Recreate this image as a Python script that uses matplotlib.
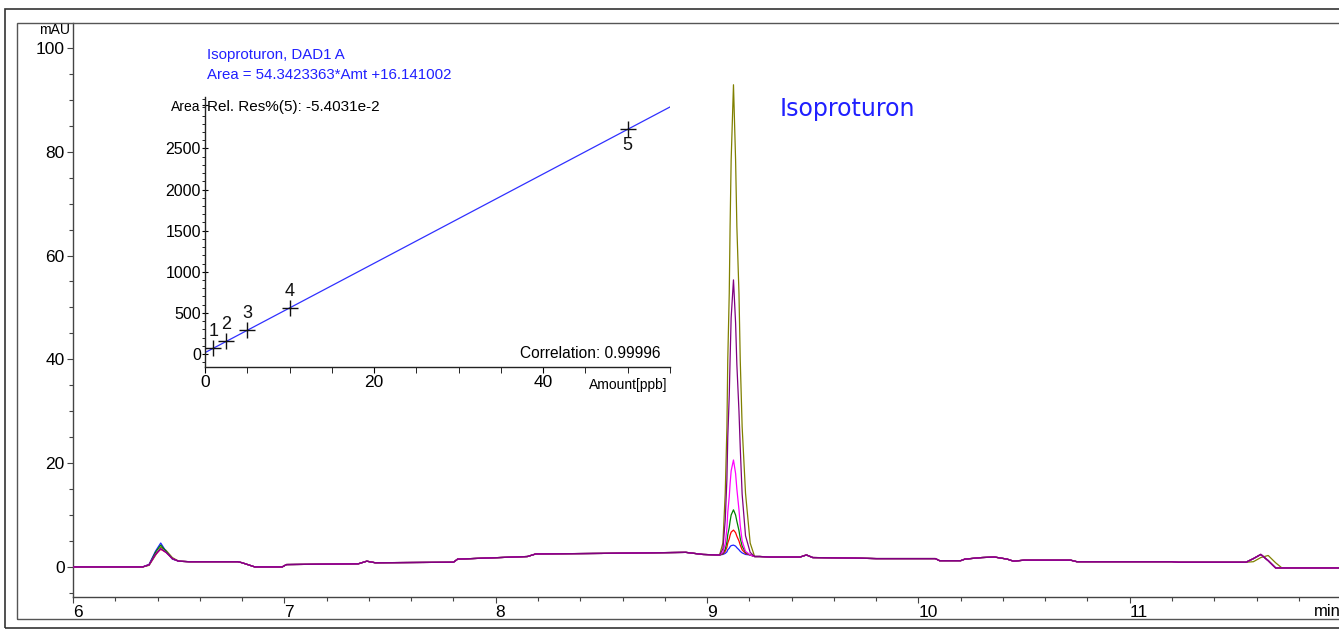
import numpy as np
import matplotlib
matplotlib.use("Agg")
import matplotlib.pyplot as plt
from matplotlib.patches import Rectangle
from matplotlib.ticker import MultipleLocator

plt.rcParams['font.family'] = ['Liberation Sans', 'DejaVu Sans']

# ---------------- chromatogram data (time in min, signal in mAU) ----------------
trace_names = ['olive', 'blue', 'red', 'green', 'magenta', 'purple']
trace_colors = ['#808000', '#2020ff', '#ff0000', '#008000', '#ff00ff', '#800080']

base_pre_t = [6.00, 6.33]
base_pre_v = [0.0, 0.0]

early_t = [6.36, 6.39, 6.415, 6.44, 6.47, 6.50]
early_v = [
    [0.3, 2.2, 3.8, 3.2, 1.8, 1.1],   # olive
    [0.5, 3.0, 4.6, 3.0, 1.5, 1.1],   # blue
    [0.4, 2.4, 3.4, 2.8, 1.6, 1.1],   # red
    [0.4, 2.8, 4.2, 3.0, 1.6, 1.1],   # green
    [0.4, 2.4, 3.5, 2.8, 1.6, 1.1],   # magenta
    [0.4, 2.4, 3.5, 2.8, 1.6, 1.1],   # purple
]

mid_t = [6.55, 6.78, 6.80, 6.86, 6.99, 7.01, 7.35, 7.39, 7.43, 7.80, 7.82,
         8.15, 8.19, 8.50, 8.90, 8.98, 9.05]
mid_v = [1.0, 1.0, 0.8, 0.0, 0.0, 0.45, 0.6, 1.1, 0.8, 0.9, 1.5,
         2.0, 2.5, 2.6, 2.8, 2.4, 2.3]

peak_t = [9.060, 9.075, 9.086, 9.094, 9.098, 9.105, 9.109, 9.114, 9.125,
          9.135, 9.141, 9.151, 9.157, 9.166, 9.182, 9.204, 9.225]
peak_v = [
    [2.4, 4.6, 14.2, 27.0, 39.9, 52.7, 65.6, 78.4, 92.9, 78.4, 65.6, 52.7, 39.9, 27.0, 14.2, 4.6, 2.0],  # olive
    [2.3, 2.4, 2.6, 2.9, 3.3, 3.6, 3.9, 4.1, 4.2, 4.0, 3.7, 3.3, 3.0, 2.7, 2.4, 2.3, 2.0],           # blue
    [2.3, 2.5, 3.0, 3.8, 4.6, 5.4, 6.1, 6.7, 7.1, 6.6, 5.9, 5.0, 4.2, 3.3, 2.6, 2.3, 2.0],           # red
    [2.3, 2.6, 3.4, 4.8, 6.2, 7.6, 8.8, 10.0, 11.0, 10.0, 8.8, 7.0, 5.5, 4.0, 2.8, 2.3, 2.0],        # green
    [2.3, 2.8, 4.5, 7.5, 10.5, 13.5, 16.0, 18.5, 20.6, 18.0, 15.0, 11.0, 8.0, 5.0, 3.0, 2.3, 2.0],   # magenta
    [2.3, 3.5, 9.0, 17.0, 25.0, 33.0, 40.0, 48.0, 55.3, 47.0, 39.0, 30.0, 23.0, 14.0, 6.0, 2.8, 2.0],  # purple
]

post_t = [9.25, 9.30, 9.44, 9.47, 9.50, 9.70, 9.80, 10.08, 10.10, 10.20, 10.22,
          10.30, 10.36, 10.42, 10.45, 10.50, 10.72, 10.75, 11.20, 11.23, 11.55]
post_v = [2.0, 1.9, 1.9, 2.3, 1.8, 1.7, 1.6, 1.6, 1.2, 1.2, 1.5,
          1.8, 1.9, 1.5, 1.1, 1.3, 1.3, 1.0, 1.0, 0.9, 0.9]

late_t = [11.585, 11.62, 11.655, 11.69, 11.72, 11.99]
late_v = [
    [1.0, 1.8, 2.2, 0.8, -0.2, -0.2],   # olive
    [1.6, 2.4, 1.2, -0.2, -0.2, -0.2],  # blue
    [1.6, 2.4, 1.2, -0.2, -0.2, -0.2],  # red
    [1.6, 2.4, 1.2, -0.2, -0.2, -0.2],  # green
    [1.6, 2.4, 1.2, -0.2, -0.2, -0.2],  # magenta
    [1.6, 2.4, 1.2, -0.2, -0.2, -0.2],  # purple
]

y_major = [0, 20, 40, 60, 80, 100]
y_labels = ['0', '20', '40', '60', '80', '100']
x_major = [6, 7, 8, 9, 10, 11]
x_labels = ['6', '7', '8', '9', '10', '11']

# ---------------- calibration data ----------------
cal_amount = [1, 2.5, 5, 10, 50]
cal_area = [72, 152, 290, 560, 2733]
cal_labels = ['1', '2', '3', '4', '5']
cal_slope = 54.3423363
cal_intercept = 16.141002
cal_yticks = [0, 500, 1000, 1500, 2000, 2500, 3027]
cal_ylabels = ['0', '500', '1000', '1500', '2000', '2500', 'Area']
cal_xticks = [0, 20, 40]
cal_xlabels = ['0', '20', '40']

W, H = 1339, 630
fig = plt.figure(figsize=(W / 100, H / 100), dpi=100)

def fx(px):
    return px / W

def fy(py):
    return 1 - py / H

# frames
fig.patches.append(Rectangle((fx(5), fy(628)), fx(1345 - 5), (628 - 9) / H, fill=False,
                             ec='#333333', lw=1.2, transform=fig.transFigure))
fig.patches.append(Rectangle((fx(17), fy(619)), fx(1345 - 17), (619 - 23) / H, fill=False,
                             ec='#555555', lw=1.0, transform=fig.transFigure))

# ---------------- main chromatogram ----------------
ax = fig.add_axes([fx(73), fy(597), fx(1339 - 73), (597 - 23) / H])
ax.set_facecolor('none')
ax.set_xlim(6, 11.99)
ax.set_ylim(-5.8, 104.8)
for s in ['top', 'right']:
    ax.spines[s].set_visible(False)
for s in ['left', 'bottom']:
    ax.spines[s].set_color('#444444')
    ax.spines[s].set_linewidth(1.0)

for i in range(len(trace_names)):
    t = base_pre_t + early_t + mid_t + peak_t + post_t + late_t
    v = base_pre_v + early_v[i] + mid_v + peak_v[i] + post_v + late_v[i]
    ax.plot(t, v, color=trace_colors[i], lw=0.9, zorder=2 + i)

ax.set_yticks(y_major)
ax.set_yticklabels(y_labels)
ax.yaxis.set_minor_locator(MultipleLocator(5))
ax.set_xticks(x_major)
ax.set_xticklabels(x_labels)
ax.xaxis.set_minor_locator(MultipleLocator(0.2))
ax.tick_params(axis='both', which='major', length=4, width=0.8, color='#444444',
               labelsize=12.5, pad=2)
ax.tick_params(axis='both', which='minor', length=3, width=0.8, color='#444444')
for lab in ax.get_xticklabels():
    lab.set_horizontalalignment('left')

fig.text(fx(70), fy(30), 'mAU', ha='right', va='center', fontsize=10)
fig.text(fx(1314), fy(611), 'min', ha='left', va='center', fontsize=12)

fig.text(fx(780), fy(109), 'Isoproturon', ha='left', va='center', fontsize=17,
         color='#2020ff', family=['DejaVu Sans'])
fig.text(fx(207), fy(55), 'Isoproturon, DAD1 A', ha='left', va='center', fontsize=10.8,
         color='#2020ff')
fig.text(fx(207), fy(75), 'Area = 54.3423363*Amt +16.141002', ha='left', va='center',
         fontsize=10.8, color='#2020ff')

# ---------------- calibration inset ----------------
ax2 = fig.add_axes([fx(205), fy(366.7), fx(670 - 205), (366.7 - 96.7) / H])
ax2.set_facecolor('none')
ax2.set_xlim(0, 55.0)
ax2.set_ylim(-155, 3130)
for s in ['top', 'right']:
    ax2.spines[s].set_visible(False)
for s in ['left', 'bottom']:
    ax2.spines[s].set_color('#222222')
    ax2.spines[s].set_linewidth(1.0)
ax2.axline((0, cal_intercept), slope=cal_slope, color='#3030ff', lw=0.9)
ax2.plot(cal_amount, cal_area, '+', color='#111111', ms=11, mew=1.0, zorder=5)
for a, r, lab in zip(cal_amount, cal_area, cal_labels):
    off = -12 if lab == '5' else 12
    ax2.annotate(lab, (a, r), xytext=(0, off), textcoords='offset points',
                 ha='center', va='center', fontsize=13, color='#111111')

ax2.set_yticks(cal_yticks)
ax2.set_yticklabels(cal_ylabels)
ax2.yaxis.set_minor_locator(MultipleLocator(100))
ax2.set_xticks(cal_xticks)
ax2.set_xticklabels(cal_xlabels)
ax2.xaxis.set_minor_locator(MultipleLocator(5))
ax2.tick_params(axis='y', which='major', length=4, width=0.8, direction='inout', labelsize=11.5, pad=1)
ax2.tick_params(axis='y', which='minor', length=2, width=0.6, direction='out')
ax2.tick_params(axis='x', which='major', length=4, width=0.8, direction='out', labelsize=12.5, pad=2)
ax2.tick_params(axis='x', which='minor', length=4, width=0.6, direction='out')
for lab in ax2.get_yticklabels():
    if lab.get_text() == 'Area':
        lab.set_fontsize(10)

fig.text(fx(207), fy(107), 'Rel. Res%(5): -5.4031e-2', ha='left', va='center',
         fontsize=11)
fig.text(fx(660), fy(353), 'Correlation: 0.99996', ha='right', va='center',
         fontsize=11.2)
fig.text(fx(667), fy(385), 'Amount[ppb]', ha='right', va='center',
         fontsize=10)

fig.savefig('out.png', dpi=100)
